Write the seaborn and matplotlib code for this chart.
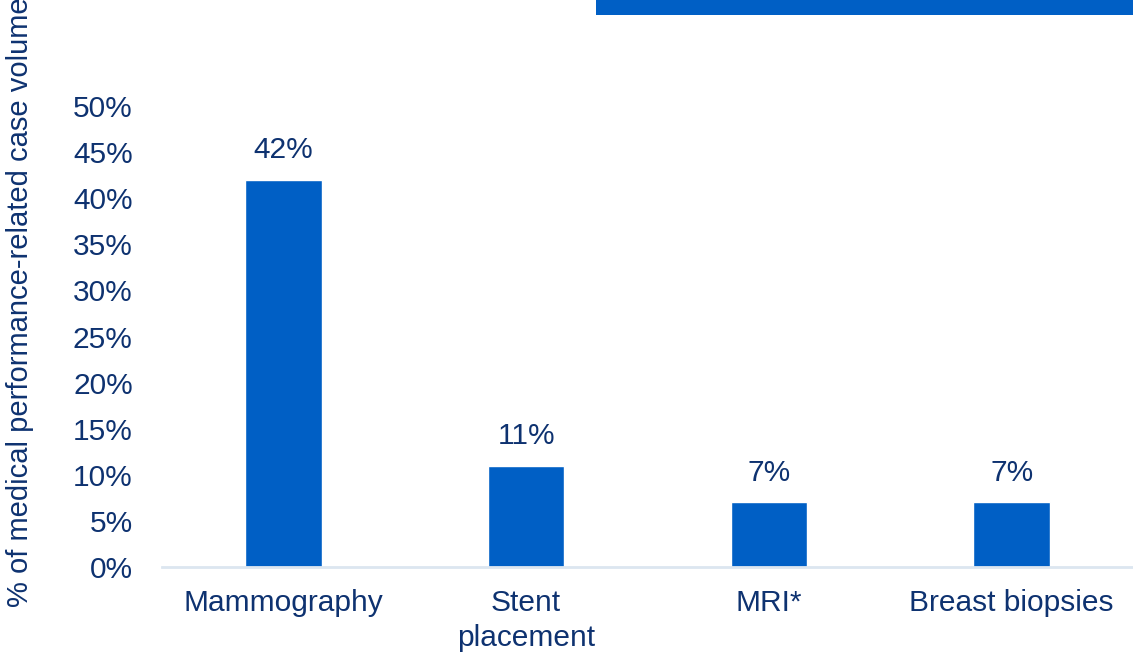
import matplotlib
matplotlib.use("Agg")
import matplotlib.pyplot as plt
import seaborn as sns
import pandas as pd
from matplotlib.patches import Rectangle

categories = ["Mammography", "Stent\nplacement", "MRI*", "Breast biopsies"]
shares = [42, 11, 7, 7]
y_ticks = [0, 5, 10, 15, 20, 25, 30, 35, 40, 45, 50]
y_label = "% of medical performance-related case volume"

BAR = "#005FC5"
TEXT = "#0E3270"
AXIS = "#DCE6F0"

sns.set_theme(style="white")
plt.rcParams["font.family"] = ["Liberation Sans", "DejaVu Sans"]

df = pd.DataFrame({"category": categories, "share": shares})

fig = plt.figure(figsize=(11.33, 6.52), dpi=100)
ax = fig.add_axes([162 / 1133, 85 / 652, (1133 - 162) / 1133, (567 - 106) / 652])

sns.barplot(data=df, x="category", y="share", color=BAR, width=0.315,
            saturation=1, ax=ax)

for p, v in zip(ax.patches, shares):
    ax.annotate(f"{v}%", (p.get_x() + p.get_width() / 2, v),
                xytext=(0, 11), textcoords="offset points",
                ha="center", va="bottom", fontsize=21.5, color=TEXT)

ax.set_ylim(0, 50)
ax.set_yticks(y_ticks)
ax.set_yticklabels([f"{t}%" for t in y_ticks])
ax.tick_params(axis="y", length=0, pad=21, labelsize=21.5, labelcolor=TEXT)
ax.tick_params(axis="x", length=0, pad=16, labelsize=21.5, labelcolor=TEXT)
for lbl in ax.get_xticklabels():
    lbl.set_linespacing(1.3)
ax.set_xlabel("")
ax.set_ylabel("")

for side in ["top", "right", "left"]:
    ax.spines[side].set_visible(False)
ax.spines["bottom"].set_color(AXIS)
ax.spines["bottom"].set_linewidth(2)

fig.text(20 / 1133, 45 / 652, y_label, rotation=90, ha="center", va="bottom",
         fontsize=21, color=TEXT)

fig.patches.append(Rectangle((596 / 1133, 1 - 15 / 652), (1133 - 596) / 1133, 15 / 652,
                             transform=fig.transFigure, facecolor=BAR,
                             edgecolor="none", zorder=5))

fig.savefig("out.png", dpi=100, facecolor="white")
